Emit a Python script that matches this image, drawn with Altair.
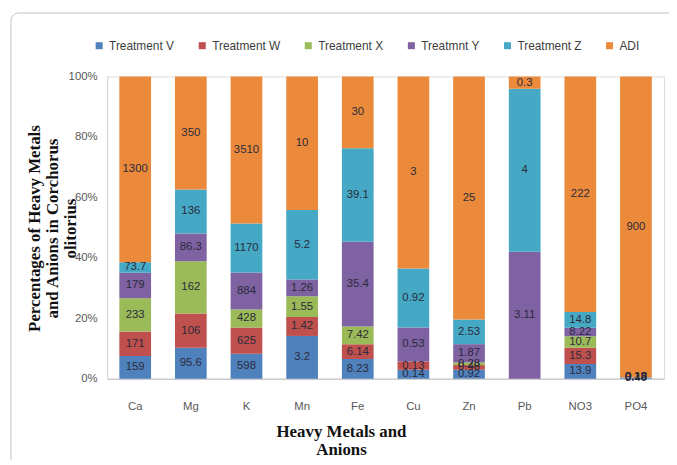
import altair as alt
import pandas as pd

categories = ["Ca", "Mg", "K", "Mn", "Fe", "Cu", "Zn", "Pb", "NO3", "PO4"]
series = ["Treatment V", "Treatment W", "Treatment X", "Treatmnt Y", "Treatment Z", "ADI"]
colors = ["#4F81BD", "#C0504D", "#9BBB59", "#7F62A1", "#45A9C5", "#EC8A3C"]

treatment_v = [159, 95.6, 598, 3.2, 8.23, 0.14, 0.92, None, 13.9, 3.49]
treatment_w = [171, 106, 625, 1.42, 6.14, 0.13, 0.48, None, 15.3, 0.18]
treatment_x = [233, 162, 428, 1.55, 7.42, None, 0.28, None, 10.7, 0.13]
treatmnt_y = [179, 86.3, 884, 1.26, 35.4, 0.53, 1.87, 3.11, 8.22, 0.12]
treatment_z = [73.7, 136, 1170, 5.2, 39.1, 0.92, 2.53, 4, 14.8, 0.18]
adi = [1300, 350, 3510, 10, 30, 3, 25, 0.3, 222, 900]

cols = [treatment_v, treatment_w, treatment_x, treatmnt_y, treatment_z, adi]
rows = []
for si, (s, vals) in enumerate(zip(series, cols)):
    for c, v in zip(categories, vals):
        if v is not None:
            rows.append({"cat": c, "series": s, "order": si, "value": v})
df = pd.DataFrame(rows)

base = alt.Chart(df).transform_joinaggregate(
    total="sum(value)", groupby=["cat"]
).transform_calculate(
    pct="datum.value / datum.total"
).transform_stack(
    stack="pct", as_=["y0", "y1"], groupby=["cat"], sort=[alt.SortField("order", order="ascending")]
).transform_calculate(
    ymid="(datum.y0 + datum.y1) / 2",
    label="format(datum.value, '')"
)

xenc = alt.X(
    "cat:N", sort=categories,
    scale=alt.Scale(paddingInner=0.43, paddingOuter=0.22),
    axis=alt.Axis(
        title=["Heavy Metals and", "Anions"], labelAngle=0, ticks=False,
        domainColor="#BFBFBF", labelColor="#595959", labelFontSize=11.5,
        labelFont="Liberation Sans", labelPadding=22,
        titleFont="Liberation Serif", titleFontSize=17, titleFontWeight="bold",
        titleColor="#111111", titleX=236, titleY=45, titleAnchor="middle",
        titleLineHeight=19,
    ),
)

bars = base.mark_bar().encode(
    x=xenc,
    y=alt.Y(
        "y0:Q", scale=alt.Scale(domain=[0, 1]),
        axis=alt.Axis(
            format=".0%", values=[i / 10 for i in range(11)], grid=False, ticks=False,
            labelOverlap=False,
            domainColor="#D9D9D9", labelColor="#595959", labelFontSize=11.5,
            labelFont="Liberation Sans", labelPadding=10,
            title=["Percentages of Heavy Metals", "and Anions in Corchorus", "olitorius"],
            titleFont="Liberation Serif", titleFontSize=17, titleFontWeight="bold",
            titleColor="#111111", titleX=-64, titleY=153, titleLineHeight=18,
        ),
    ),
    y2="y1:Q",
    color=alt.Color(
        "series:N", sort=series,
        scale=alt.Scale(domain=series, range=colors),
        legend=alt.Legend(
            title=None, orient="none", direction="horizontal", legendX=-14, legendY=-37,
            symbolType="square", symbolSize=50, symbolStrokeWidth=0,
            labelFont="Liberation Sans", labelFontSize=12, labelColor="#404040",
            labelOffset=4, columnPadding=22, columns=6,
        ),
    ),
    order=alt.Order("order:Q"),
)

texts = base.mark_text(
    font="Liberation Sans", fontSize=11.5, color="#2B2B3B", baseline="middle"
).encode(
    x=alt.X("cat:N", sort=categories),
    y=alt.Y("ymid:Q"),
    text="label:N",
)

frame = alt.Chart(pd.DataFrame({"f": [0]})).mark_rect(
    fill="transparent", stroke="#BFBFBF", strokeWidth=1, cornerRadius=8
).encode(
    x=alt.value(-97), x2=alt.value(800), y=alt.value(-64), y2=alt.value(480)
)

chart = alt.layer(frame, bars, texts).properties(
    width=562, height=305,
    autosize=alt.AutoSizeParams(type="none"),
    padding={"left": 100, "top": 67, "right": 5, "bottom": 80},
).configure_view(stroke=None).configure(background="white")

chart.save("out.html", embed_options={"renderer": "svg", "actions": False})
